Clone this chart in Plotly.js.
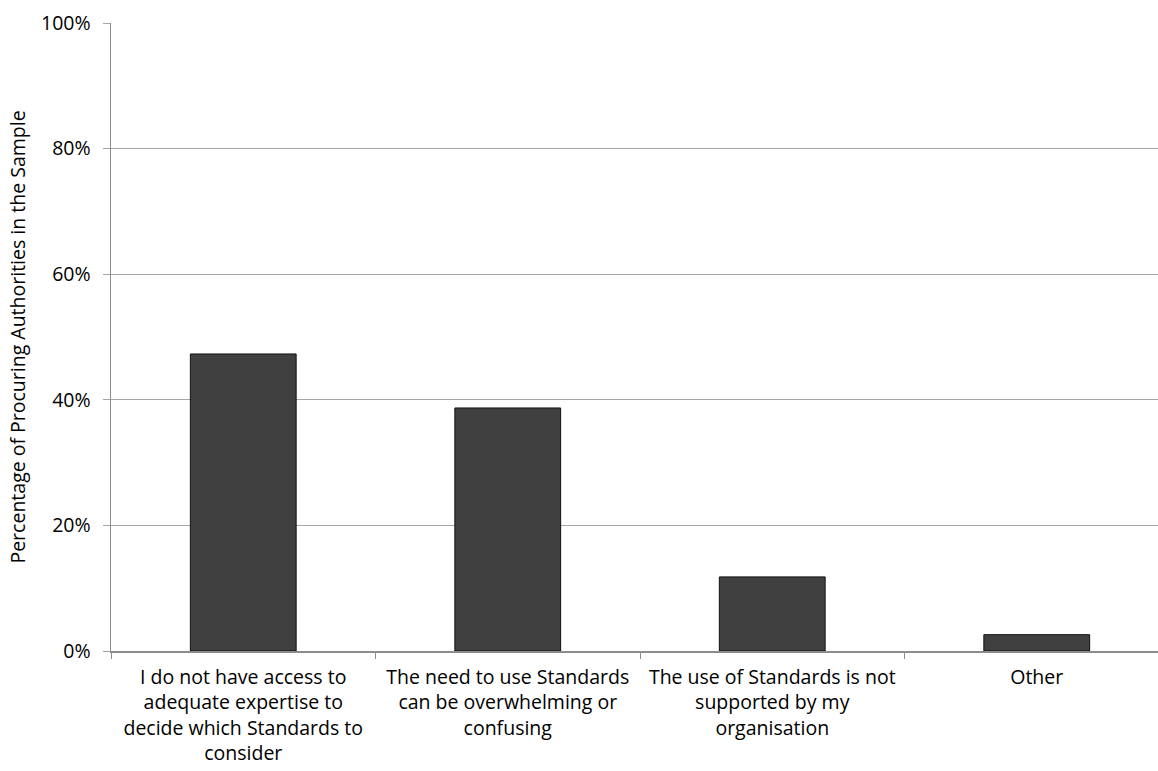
<!DOCTYPE html>
<html><head><meta charset="utf-8">
<script src="https://cdn.plot.ly/plotly-3.0.1.min.js"></script>
<style>html,body{margin:0;padding:0;overflow:hidden;background:#fff}</style>
</head><body><div id="chart"></div>
<script>
const categories = [
  "I do not have access to<br>adequate expertise to<br>decide which Standards to<br>consider",
  "The need to use Standards<br>can be overwhelming or<br>confusing",
  "The use of Standards is not<br>supported by my<br>organisation",
  "Other"
];
const values = [0.473, 0.387, 0.118, 0.026];
const yTickVals = [0, 0.2, 0.4, 0.6, 0.8, 1.0];
const yTickText = ["0%", "20%", "40%", "60%", "80%", "100%"];
const yTitle = "Percentage of Procuring Authorities in the Sample";

const font = "'Open Sans', sans-serif";
Plotly.newPlot('chart', [{
  type: 'bar', x: categories, y: values, width: 0.4,
  marker: {color: '#404040', line: {color: '#111111', width: 1}},
  hoverinfo: 'skip'
}], {
  width: 1170, height: 771,
  margin: {l: 111, r: 1, t: 23, b: 120},
  paper_bgcolor: '#fff', plot_bgcolor: '#fff',
  font: {family: font, color: '#000', size: 19.5},
  showlegend: false,
  bargap: 0.6,
  xaxis: {type: 'category', showline: true, linecolor: '#8c8c8c', linewidth: 1.5,
    ticks: 'outside', tickson: 'boundaries', ticklen: 6, tickcolor: '#8c8c8c',
    ticklabelstandoff: 8,
    showgrid: false, tickfont: {size: 19.5, family: font}, automargin: false},
  yaxis: {range: [0, 1], tickvals: yTickVals, ticktext: yTickText,
    showline: true, linecolor: '#8c8c8c', linewidth: 1.5,
    ticks: 'outside', ticklen: 7, tickcolor: '#a6a6a6',
    ticklabelstandoff: 8,
    showgrid: true, gridcolor: '#a6a6a6', gridwidth: 1, zeroline: false,
    tickfont: {size: 19.5, family: font}, automargin: false,
    title: {text: yTitle, font: {size: 19.5, family: font}, standoff: 10}}
}, {displayModeBar: false, staticPlot: true});
</script></body></html>
